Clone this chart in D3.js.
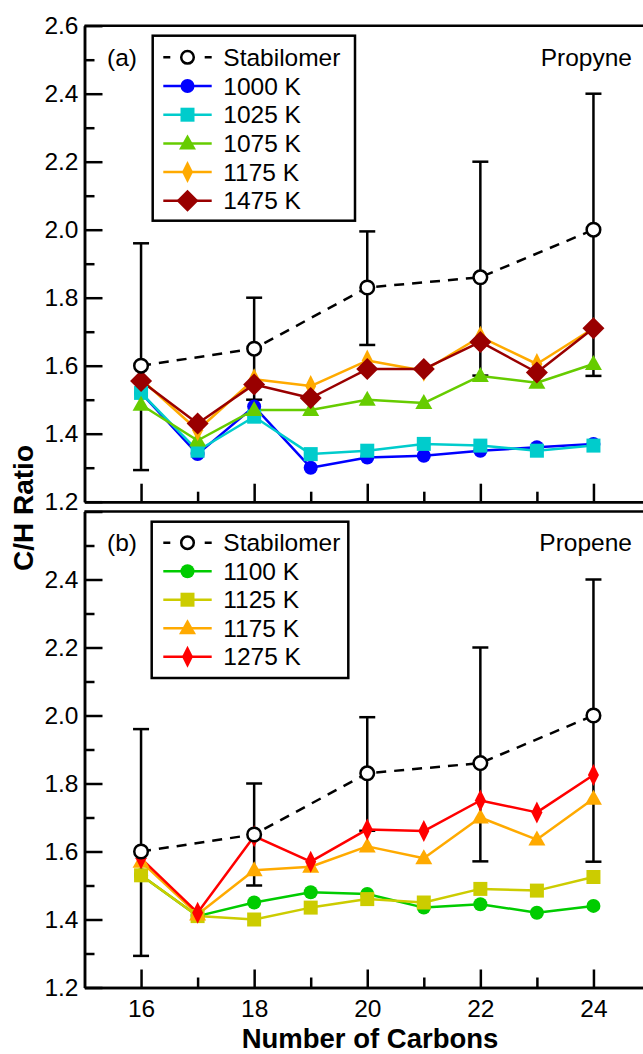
<!DOCTYPE html>
<html>
<head>
<meta charset="utf-8">
<script src="https://cdn.jsdelivr.net/npm/d3@7"></script>
<style>
  html, body { margin: 0; padding: 0; background: #fff; }
  svg { display: block; font-family: "Liberation Sans", Arial, Helvetica, sans-serif; }
</style>
</head>
<body>
<svg id="chart" width="643" height="1054"></svg>
<script>
// ---------------- DATA ----------------
const carbons = [16, 17, 18, 19, 20, 21, 22, 23, 24];
const stabCarbons = [16, 18, 20, 22, 24];
const stabMean = [1.60, 1.65, 1.83, 1.86, 2.00];
const stabLow  = [1.293, 1.50, 1.661, 1.571, 1.57];
const stabHigh = [1.96, 1.80, 1.995, 2.20, 2.40];

// Panel (a): Propyne
const propyne1000 = [1.52, 1.34, 1.48, 1.30, 1.33, 1.335, 1.35, 1.36, 1.37];
const propyne1025 = [1.52, 1.35, 1.45, 1.34, 1.35, 1.37, 1.365, 1.35, 1.365];
const propyne1075 = [1.485, 1.38, 1.47, 1.47, 1.50, 1.49, 1.57, 1.55, 1.605];
const propyne1175 = [1.56, 1.41, 1.56, 1.54, 1.615, 1.585, 1.685, 1.605, 1.71];
const propyne1475 = [1.555, 1.43, 1.545, 1.505, 1.59, 1.59, 1.67, 1.58, 1.71];

// Panel (b): Propene
const propene1100 = [1.53, 1.41, 1.45, 1.48, 1.475, 1.435, 1.445, 1.42, 1.44];
const propene1125 = [1.53, 1.41, 1.40, 1.435, 1.46, 1.45, 1.49, 1.485, 1.525];
const propene1175 = [1.57, 1.415, 1.545, 1.555, 1.615, 1.58, 1.70, 1.635, 1.755];
const propene1275 = [1.58, 1.42, 1.645, 1.57, 1.665, 1.66, 1.75, 1.715, 1.825];

const yMajorTicks = [1.2, 1.4, 1.6, 1.8, 2.0, 2.2, 2.4, 2.6];
const yMinorTicks = [1.3, 1.5, 1.7, 1.9, 2.1, 2.3, 2.5];
const xMajorTicks = [16, 18, 20, 22, 24];
const xMinorTicks = [17, 19, 21, 23];

const seriesA = [
  { label: "1000 K", values: propyne1000, color: "#0000ff", shape: "circle" },
  { label: "1025 K", values: propyne1025, color: "#00cccc", shape: "square" },
  { label: "1075 K", values: propyne1075, color: "#66cc00", shape: "triangle" },
  { label: "1175 K", values: propyne1175, color: "#ffaa00", shape: "thinDiamond" },
  { label: "1475 K", values: propyne1475, color: "#990000", shape: "diamond" }
];
const seriesB = [
  { label: "1100 K", values: propene1100, color: "#00cc00", shape: "circle" },
  { label: "1125 K", values: propene1125, color: "#cccc00", shape: "square" },
  { label: "1175 K", values: propene1175, color: "#ffaa00", shape: "triangle" },
  { label: "1275 K", values: propene1275, color: "#ff0000", shape: "thinDiamond" }
];

// ---------------- LAYOUT ----------------
const svg = d3.select("#chart");
const FONT = 24.5;
const x = d3.scaleLinear().domain([15, 25]).range([84.5, 650]);

const panels = [
  { y: d3.scaleLinear().domain([1.2, 2.6]).range([501.7, 25.7]), series: seriesA,
    tag: "(a)", name: "Propyne", showX: false, yLabels: yMajorTicks,
    legend: { x0: 152.7, y0: 35.7, x1: 355, y1: 220.7, first: 57.3, step: 28.7 } },
  { y: d3.scaleLinear().domain([1.2, 2.6]).range([987.5, 511.5]), series: seriesB,
    tag: "(b)", name: "Propene", showX: true, yLabels: yMajorTicks.filter(v => v < 2.5),
    legend: { x0: 151.7, y0: 521.7, x1: 348.3, y1: 678, first: 542.7, step: 28.5 } }
];

function markerPath(shape) {
  switch (shape) {
    case "circle": return "M7,0A7,7 0 1,1 -7,0A7,7 0 1,1 7,0Z";
    case "square": return "M-7,-7H7V7H-7Z";
    case "triangle": return "M0,-9L8.5,6L-8.5,6Z";
    case "thinDiamond": return "M0,-11L5.5,0L0,11L-5.5,0Z";
    case "diamond": return "M0,-11L11,0L0,11L-11,0Z";
  }
}

panels.forEach(p => {
  const g = svg.append("g");
  const y = p.y;
  const top = y.range()[1], bottom = y.range()[0];

  // frame: top border
  g.append("line").attr("x1", x(15)).attr("x2", x(25)).attr("y1", top).attr("y2", top)
    .attr("stroke", "#000").attr("stroke-width", 2.5);

  // left axis major
  const yAxisMajor = d3.axisLeft(y).tickValues(yMajorTicks).tickSizeInner(-18).tickSizeOuter(0)
    .tickPadding(6).tickFormat(d => p.yLabels.some(v => Math.abs(v - d) < 1e-9) ? d3.format(".1f")(d) : "");
  const ya = g.append("g").attr("transform", `translate(${x(15)},0)`).call(yAxisMajor);
  const yAxisMinor = d3.axisLeft(y).tickValues(yMinorTicks).tickSizeInner(-10).tickSizeOuter(0).tickFormat("");
  const ym = g.append("g").attr("transform", `translate(${x(15)},0)`).call(yAxisMinor);

  // bottom axis
  const xAxisMajor = d3.axisBottom(x).tickValues(xMajorTicks).tickSizeInner(-18).tickSizeOuter(0)
    .tickPadding(12.5).tickFormat(p.showX ? d3.format("d") : () => "");
  const xa = g.append("g").attr("transform", `translate(0,${bottom})`).call(xAxisMajor);
  const xAxisMinor = d3.axisBottom(x).tickValues(xMinorTicks).tickSizeInner(-10).tickSizeOuter(0).tickFormat("");
  const xm = g.append("g").attr("transform", `translate(0,${bottom})`).call(xAxisMinor);

  [ya, ym, xa, xm].forEach(a => {
    a.selectAll("path.domain").attr("stroke", "#000").attr("stroke-width", 2.5);
    a.selectAll(".tick line").attr("stroke", "#000").attr("stroke-width", 2.5);
    a.selectAll("text").attr("font-size", FONT).attr("fill", "#000")
      .attr("font-family", "Liberation Sans, Arial, sans-serif");
  });

  // error bars for Stabilomer
  const eb = g.append("g");
  stabCarbons.forEach((c, i) => {
    eb.append("line").attr("x1", x(c)).attr("x2", x(c)).attr("y1", y(stabLow[i])).attr("y2", y(stabHigh[i]))
      .attr("stroke", "#000").attr("stroke-width", 2.5);
    [stabLow[i], stabHigh[i]].forEach(v => {
      eb.append("line").attr("x1", x(c) - 8).attr("x2", x(c) + 8).attr("y1", y(v)).attr("y2", y(v))
        .attr("stroke", "#000").attr("stroke-width", 2.5);
    });
  });

  // series
  const line = d3.line().x((d, i) => x(carbons[i])).y(d => y(d));
  p.series.forEach(s => {
    g.append("path").datum(s.values).attr("d", line).attr("fill", "none")
      .attr("stroke", s.color).attr("stroke-width", 2.5).attr("stroke-linejoin", "round");
  });
  p.series.forEach(s => {
    g.selectAll(null).data(s.values).enter().append("path")
      .attr("d", markerPath(s.shape))
      .attr("transform", (d, i) => `translate(${x(carbons[i])},${y(d)})`)
      .attr("fill", s.color);
  });

  // Stabilomer dashed line and open circles
  const sline = d3.line().x((d, i) => x(stabCarbons[i])).y(d => y(d));
  g.append("path").datum(stabMean).attr("d", sline).attr("fill", "none")
    .attr("stroke", "#000").attr("stroke-width", 2.5).attr("stroke-dasharray", "10,8");
  g.selectAll(null).data(stabMean).enter().append("circle")
    .attr("cx", (d, i) => x(stabCarbons[i])).attr("cy", d => y(d)).attr("r", 6.8)
    .attr("fill", "#fff").attr("stroke", "#000").attr("stroke-width", 2.5);

  // panel tags
  g.append("text").attr("x", 107).attr("y", p.legend.first + 8.5).attr("font-size", FONT).text(p.tag);
  g.append("text").attr("x", 632).attr("y", p.legend.first + 8.5).attr("text-anchor", "end")
    .attr("font-size", FONT).text(p.name);

  // legend
  const L = p.legend;
  const lg = g.append("g");
  lg.append("rect").attr("x", L.x0).attr("y", L.y0).attr("width", L.x1 - L.x0).attr("height", L.y1 - L.y0)
    .attr("fill", "#fff").attr("stroke", "#000").attr("stroke-width", 2.5);
  const entries = [{ label: "Stabilomer", stab: true }].concat(p.series);
  entries.forEach((e, i) => {
    const cy = L.first + i * L.step;
    if (e.stab) {
      lg.append("line").attr("x1", 163.3).attr("x2", 211.7).attr("y1", cy).attr("y2", cy)
        .attr("stroke", "#000").attr("stroke-width", 2.5).attr("stroke-dasharray", "7,34.4");
      lg.append("circle").attr("cx", 187.5).attr("cy", cy).attr("r", 6.3)
        .attr("fill", "#fff").attr("stroke", "#000").attr("stroke-width", 2.5);
    } else {
      lg.append("line").attr("x1", 163.3).attr("x2", 211.7).attr("y1", cy).attr("y2", cy)
        .attr("stroke", e.color).attr("stroke-width", 2.5);
      lg.append("path").attr("d", markerPath(e.shape)).attr("transform", `translate(187.5,${cy})`)
        .attr("fill", e.color);
    }
    lg.append("text").attr("x", 223.3).attr("y", cy + 8.5).attr("font-size", FONT).text(e.label);
  });
});

// axis titles
svg.append("text").attr("x", 370).attr("y", 1048).attr("text-anchor", "middle")
  .attr("font-size", 27.5).attr("font-weight", "bold").text("Number of Carbons");
svg.append("text").attr("transform", "translate(33,508) rotate(-90)").attr("text-anchor", "middle")
  .attr("font-size", 28).attr("font-weight", "bold").text("C/H Ratio");
</script>
</body>
</html>
